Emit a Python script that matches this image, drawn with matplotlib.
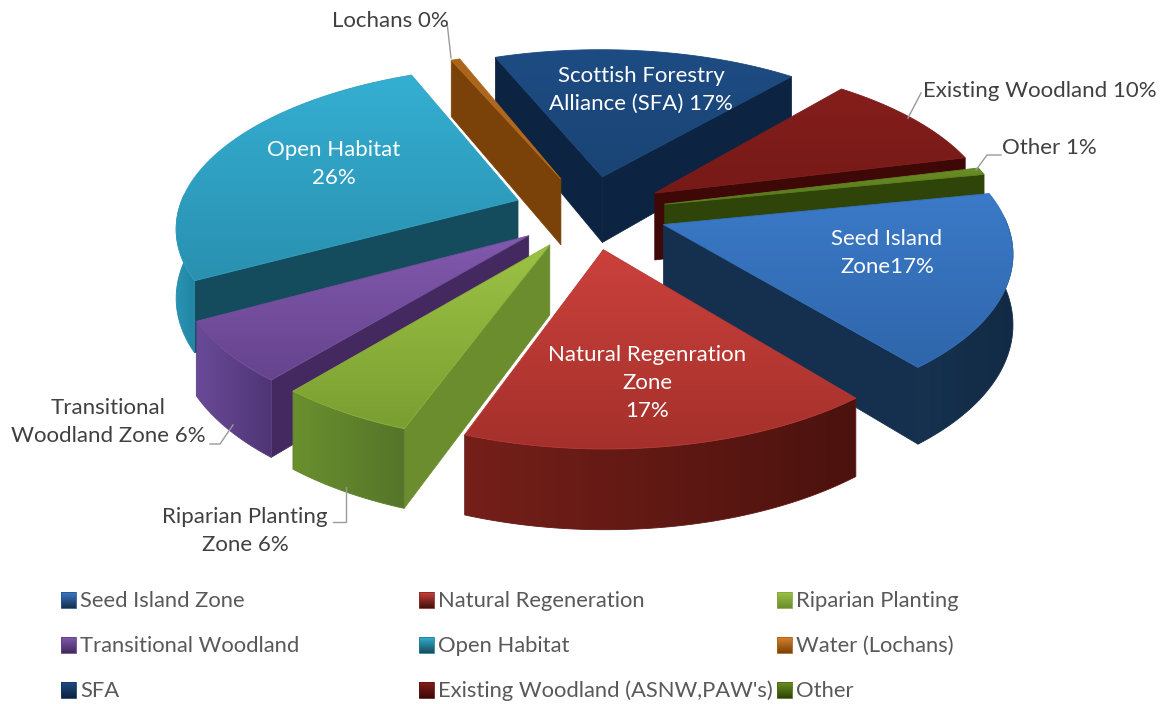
import numpy as np
import matplotlib
matplotlib.use("Agg")
import matplotlib.pyplot as plt
from matplotlib.patches import Polygon
from matplotlib.colors import to_rgb

plt.rcParams['font.family'] = ['Lato', 'DejaVu Sans']

categories = ["Seed Island Zone", "Natural Regeneration", "Riparian Planting",
              "Transitional Woodland", "Open Habitat", "Water (Lochans)",
              "SFA", "Existing Woodland (ASNW,PAW's)", "Other"]
values = [17, 16.8, 5.5, 6, 26.2, 0.5, 17.6, 9.8, 0.7]
top_hi = ["#3b7ac8", "#cb413c", "#9cc244", "#8259ae", "#34afd2", "#a9641c", "#1d4c84", "#841e1b", "#6a8f24"]
top_lo = ["#2f66ab", "#a5302b", "#7a9f32", "#66448d", "#2a90b0", "#b96d20", "#1a4474", "#761a18", "#55741c"]
outer_a = ["#16324f", "#751f19", "#6a8f2e", "#6a4a98", "#2a93b4", "#8a4e10", "#143a68", "#5a1210", "#3c520f"]
outer_b = ["#122a45", "#4c120e", "#55752a", "#4f3575", "#2185a3", "#8a4e10", "#143a68", "#5a1210", "#3c520f"]
radial_c = ["#15304f", "#43110d", "#6b8d2d", "#43295f", "#154c5d", "#7a4208", "#0c2341", "#3d0806", "#2f4408"]
swatch_hi = ["#3b7ac8", "#cb413c", "#9cc244", "#8259ae", "#34afd2", "#d9822b", "#1d4c84", "#841e1b", "#6a8f24"]
labels = [("Seed Island\nZone17%", 887, 253, "white"),
          ("Natural Regenration\nZone\n17%", 647, 383, "white"),
          ("Riparian Planting\nZone 6%", 245, 531, "#404040"),
          ("Transitional\nWoodland Zone 6%", 108, 422, "#404040"),
          ("Open Habitat\n26%", 334, 164, "white"),
          ("Lochans 0%", 390, 21, "#404040"),
          ("Scottish Forestry\nAlliance (SFA) 17%", 641, 90, "white"),
          ("Existing Woodland 10%", 1040, 91, "#404040"),
          ("Other 1%", 1049, 148, "#404040")]
leaders = [[(210, 444), (220, 444), (233, 425)],
           [(333, 522), (346, 522), (346, 487)],
           [(447, 22), (451, 58)],
           [(921, 93), (908, 118)],
           [(1001, 155), (987, 155), (976, 170)]]

START = 79.0
CX, CY = 590.0, 212.0
R, EXPL, G, K, DEPTH = 340.0, 77.0, 0.48, 0.00045, 68.0

fig = plt.figure(figsize=(11.63, 7.04), dpi=100)
ax = fig.add_axes([0, 0, 1, 1])
ax.set_xlim(0, 1163)
ax.set_ylim(704, 0)
ax.axis("off")


def proj(X, Y, z=0.0):
    s = 1 + K * Y
    return CX + X * s, CY + G * Y * s + z * DEPTH * s


def world(theta, r, ex, ey):
    t = np.radians(theta)
    return ex + r * np.sin(t), ey - r * np.cos(t)


def gradient_fill(poly, c1, c2, zorder, horizontal=False):
    pts = np.array(poly)
    patch = Polygon(pts, closed=True, fc="none", ec="none", zorder=zorder)
    ax.add_patch(patch)
    n = 64
    c1, c2 = np.array(to_rgb(c1)), np.array(to_rgb(c2))
    f = np.linspace(0, 1, n)[:, None]
    grad = c1 * (1 - f) + c2 * f
    img = grad[None, :, :] if horizontal else grad[:, None, :]
    im = ax.imshow(img, extent=(pts[:, 0].min(), pts[:, 0].max(), pts[:, 1].max(), pts[:, 1].min()),
                   aspect="auto", zorder=zorder, interpolation="bilinear")
    im.set_clip_path(patch)
    ax.add_patch(Polygon(pts, closed=True, fc="none", ec=tuple((c1 + c2) / 2), lw=0.6, zorder=zorder))


total = sum(values)
bounds = START + np.concatenate([[0], np.cumsum(values)]) / total * 360
wedges = []
for i in range(len(values)):
    a0, a1 = bounds[i], bounds[i + 1]
    mid = (a0 + a1) / 2
    ex, ey = world(mid, EXPL, 0, 0)
    wedges.append((i, a0, a1, ex, ey, mid))

# painter's order: back slices first
order = sorted(wedges, key=lambda w: w[4] + 0.35 * R * (-np.cos(np.radians(w[5]))))
z = 2.0
for i, a0, a1, ex, ey, mid in order:
    th = np.linspace(a0, a1, 80)
    rim = [world(t, R, ex, ey) for t in th]
    top = [proj(ex, ey)] + [proj(*p) for p in rim]
    # radial walls facing the viewer
    for a, sign in ((a0, -1), (a1, 1)):
        if sign * np.sin(np.radians(a)) > 0:
            px, py = world(a, R, ex, ey)
            wall = [proj(ex, ey), proj(px, py), proj(px, py, 1), proj(ex, ey, 1)]
            ax.add_patch(Polygon(wall, closed=True, fc=radial_c[i], ec=radial_c[i], lw=0.5, zorder=z))
    # outer wall, front-facing part only
    vis = [t for t in th if np.cos(np.radians(t)) < 0.05]
    if len(vis) > 1:
        r2 = [world(t, R, ex, ey) for t in vis]
        wall = [proj(*p) for p in r2] + [proj(*p, 1) for p in r2[::-1]]
        gradient_fill(wall, outer_a[i], outer_b[i], z + 0.1, horizontal=True)
    gradient_fill(top, top_hi[i], top_lo[i], z + 0.2)
    z += 1

for pts in leaders:
    xs, ys = zip(*pts)
    ax.plot(xs, ys, color="#9a9a9a", lw=1, zorder=60)

for text, x, y, col in labels:
    ax.text(x, y, text, color=col, fontsize=16, ha="center", va="center",
            linespacing=1.52, zorder=70)

# legend, row by row
col_x = [61, 419, 777]
row_y = [600, 645, 690]
for i, name in enumerate(categories):
    x = col_x[i % 3]
    y = row_y[i // 3]
    gradient_fill([(x, y - 8), (x + 15, y - 8), (x + 15, y + 8), (x, y + 8)], swatch_hi[i], radial_c[i], 80)
    ax.text(x + 19, y + 1, name, color="#595959", fontsize=15.8, ha="left", va="center", zorder=80)

ax.set_xlim(0, 1163)
ax.set_ylim(704, 0)
fig.savefig("out.png", dpi=100)
